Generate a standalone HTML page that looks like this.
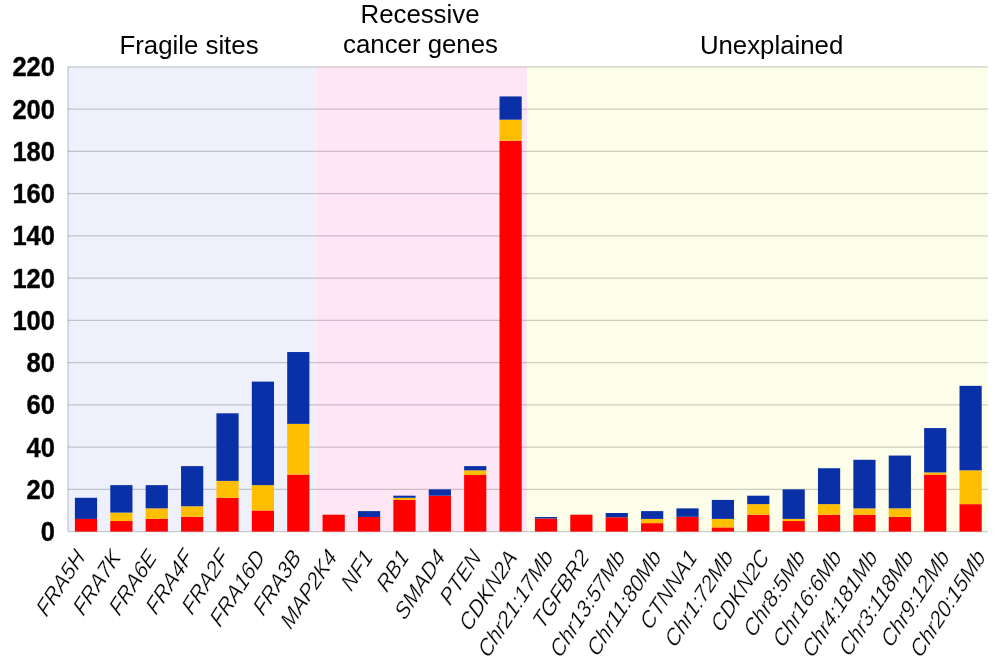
<!DOCTYPE html><html><head><meta charset="utf-8"><style>html,body{margin:0;padding:0;background:#fff;}svg{display:block;will-change:transform;}text{font-family:"Liberation Sans",sans-serif;}</style></head><body>
<svg width="1000" height="665" viewBox="0 0 1000 665">
<rect x="68.0" y="66.85" width="247.60" height="464.75" fill="#EEF1FC"/>
<rect x="315.60" y="66.85" width="211.40" height="464.75" fill="#FDE7F4"/>
<rect x="527.00" y="66.85" width="461.00" height="464.75" fill="#FDFEE9"/>
<line x1="68.0" y1="531.60" x2="988.0" y2="531.60" stroke="#000" stroke-opacity="0.19" stroke-width="1.4"/>
<line x1="68.0" y1="489.35" x2="988.0" y2="489.35" stroke="#000" stroke-opacity="0.19" stroke-width="1.4"/>
<line x1="68.0" y1="447.10" x2="988.0" y2="447.10" stroke="#000" stroke-opacity="0.19" stroke-width="1.4"/>
<line x1="68.0" y1="404.85" x2="988.0" y2="404.85" stroke="#000" stroke-opacity="0.19" stroke-width="1.4"/>
<line x1="68.0" y1="362.60" x2="988.0" y2="362.60" stroke="#000" stroke-opacity="0.19" stroke-width="1.4"/>
<line x1="68.0" y1="320.35" x2="988.0" y2="320.35" stroke="#000" stroke-opacity="0.19" stroke-width="1.4"/>
<line x1="68.0" y1="278.10" x2="988.0" y2="278.10" stroke="#000" stroke-opacity="0.19" stroke-width="1.4"/>
<line x1="68.0" y1="235.85" x2="988.0" y2="235.85" stroke="#000" stroke-opacity="0.19" stroke-width="1.4"/>
<line x1="68.0" y1="193.60" x2="988.0" y2="193.60" stroke="#000" stroke-opacity="0.19" stroke-width="1.4"/>
<line x1="68.0" y1="151.35" x2="988.0" y2="151.35" stroke="#000" stroke-opacity="0.19" stroke-width="1.4"/>
<line x1="68.0" y1="109.10" x2="988.0" y2="109.10" stroke="#000" stroke-opacity="0.19" stroke-width="1.4"/>
<line x1="68.0" y1="66.85" x2="988.0" y2="66.85" stroke="#000" stroke-opacity="0.19" stroke-width="1.4"/>
<line x1="68.0" y1="66.85" x2="68.0" y2="531.60" stroke="#000" stroke-opacity="0.19" stroke-width="1.4"/>
<rect x="74.89" y="518.93" width="22.2" height="12.67" fill="#FF0000"/>
<rect x="74.89" y="497.80" width="22.2" height="21.12" fill="#0A30A8"/>
<rect x="110.28" y="521.04" width="22.2" height="10.56" fill="#FF0000"/>
<rect x="110.28" y="512.59" width="22.2" height="8.45" fill="#FFBE00"/>
<rect x="110.28" y="485.12" width="22.2" height="27.46" fill="#0A30A8"/>
<rect x="145.66" y="518.93" width="22.2" height="12.67" fill="#FF0000"/>
<rect x="145.66" y="508.36" width="22.2" height="10.56" fill="#FFBE00"/>
<rect x="145.66" y="485.12" width="22.2" height="23.24" fill="#0A30A8"/>
<rect x="181.05" y="516.81" width="22.2" height="14.79" fill="#FF0000"/>
<rect x="181.05" y="506.25" width="22.2" height="10.56" fill="#FFBE00"/>
<rect x="181.05" y="466.11" width="22.2" height="40.14" fill="#0A30A8"/>
<rect x="216.43" y="497.80" width="22.2" height="33.80" fill="#FF0000"/>
<rect x="216.43" y="480.90" width="22.2" height="16.90" fill="#FFBE00"/>
<rect x="216.43" y="413.30" width="22.2" height="67.60" fill="#0A30A8"/>
<rect x="251.82" y="510.48" width="22.2" height="21.12" fill="#FF0000"/>
<rect x="251.82" y="485.12" width="22.2" height="25.35" fill="#FFBE00"/>
<rect x="251.82" y="381.61" width="22.2" height="103.51" fill="#0A30A8"/>
<rect x="287.20" y="474.56" width="22.2" height="57.04" fill="#FF0000"/>
<rect x="287.20" y="423.86" width="22.2" height="50.70" fill="#FFBE00"/>
<rect x="287.20" y="352.04" width="22.2" height="71.82" fill="#0A30A8"/>
<rect x="322.58" y="514.70" width="22.2" height="16.90" fill="#FF0000"/>
<rect x="357.97" y="517.02" width="22.2" height="14.58" fill="#FF0000"/>
<rect x="357.97" y="511.11" width="22.2" height="5.91" fill="#0A30A8"/>
<rect x="393.35" y="499.91" width="22.2" height="31.69" fill="#FF0000"/>
<rect x="393.35" y="497.80" width="22.2" height="2.11" fill="#FFBE00"/>
<rect x="393.35" y="495.69" width="22.2" height="2.11" fill="#0A30A8"/>
<rect x="428.74" y="495.69" width="22.2" height="35.91" fill="#FF0000"/>
<rect x="428.74" y="489.35" width="22.2" height="6.34" fill="#0A30A8"/>
<rect x="464.12" y="474.99" width="22.2" height="56.61" fill="#FF0000"/>
<rect x="464.12" y="470.34" width="22.2" height="4.65" fill="#FFBE00"/>
<rect x="464.12" y="466.11" width="22.2" height="4.22" fill="#0A30A8"/>
<rect x="499.51" y="140.79" width="22.2" height="390.81" fill="#FF0000"/>
<rect x="499.51" y="119.66" width="22.2" height="21.12" fill="#FFBE00"/>
<rect x="499.51" y="96.43" width="22.2" height="23.24" fill="#0A30A8"/>
<rect x="534.89" y="518.50" width="22.2" height="13.10" fill="#FF0000"/>
<rect x="534.89" y="517.02" width="22.2" height="1.48" fill="#0A30A8"/>
<rect x="570.28" y="514.70" width="22.2" height="16.90" fill="#FF0000"/>
<rect x="605.66" y="517.24" width="22.2" height="14.36" fill="#FF0000"/>
<rect x="605.66" y="513.01" width="22.2" height="4.23" fill="#0A30A8"/>
<rect x="641.05" y="523.15" width="22.2" height="8.45" fill="#FF0000"/>
<rect x="641.05" y="518.93" width="22.2" height="4.22" fill="#FFBE00"/>
<rect x="641.05" y="511.11" width="22.2" height="7.82" fill="#0A30A8"/>
<rect x="676.43" y="516.81" width="22.2" height="14.79" fill="#FF0000"/>
<rect x="676.43" y="508.36" width="22.2" height="8.45" fill="#0A30A8"/>
<rect x="711.82" y="527.38" width="22.2" height="4.22" fill="#FF0000"/>
<rect x="711.82" y="518.93" width="22.2" height="8.45" fill="#FFBE00"/>
<rect x="711.82" y="499.91" width="22.2" height="19.01" fill="#0A30A8"/>
<rect x="747.20" y="514.70" width="22.2" height="16.90" fill="#FF0000"/>
<rect x="747.20" y="504.14" width="22.2" height="10.56" fill="#FFBE00"/>
<rect x="747.20" y="495.69" width="22.2" height="8.45" fill="#0A30A8"/>
<rect x="782.58" y="521.04" width="22.2" height="10.56" fill="#FF0000"/>
<rect x="782.58" y="518.93" width="22.2" height="2.11" fill="#FFBE00"/>
<rect x="782.58" y="489.35" width="22.2" height="29.57" fill="#0A30A8"/>
<rect x="817.97" y="514.70" width="22.2" height="16.90" fill="#FF0000"/>
<rect x="817.97" y="504.14" width="22.2" height="10.56" fill="#FFBE00"/>
<rect x="817.97" y="468.23" width="22.2" height="35.91" fill="#0A30A8"/>
<rect x="853.35" y="514.70" width="22.2" height="16.90" fill="#FF0000"/>
<rect x="853.35" y="508.36" width="22.2" height="6.34" fill="#FFBE00"/>
<rect x="853.35" y="459.78" width="22.2" height="48.59" fill="#0A30A8"/>
<rect x="888.74" y="516.81" width="22.2" height="14.79" fill="#FF0000"/>
<rect x="888.74" y="508.36" width="22.2" height="8.45" fill="#FFBE00"/>
<rect x="888.74" y="455.55" width="22.2" height="52.81" fill="#0A30A8"/>
<rect x="924.12" y="474.56" width="22.2" height="57.04" fill="#FF0000"/>
<rect x="924.12" y="472.45" width="22.2" height="2.11" fill="#FFBE00"/>
<rect x="924.12" y="428.09" width="22.2" height="44.36" fill="#0A30A8"/>
<rect x="959.51" y="504.14" width="22.2" height="27.46" fill="#FF0000"/>
<rect x="959.51" y="470.34" width="22.2" height="33.80" fill="#FFBE00"/>
<rect x="959.51" y="385.84" width="22.2" height="84.50" fill="#0A30A8"/>
<text transform="translate(54.9,541.10) scale(1,1.05)" font-size="25.5" font-weight="bold" text-anchor="end" fill="#000" stroke="#000" stroke-width="0.35">0</text>
<text transform="translate(54.9,498.85) scale(1,1.05)" font-size="25.5" font-weight="bold" text-anchor="end" fill="#000" stroke="#000" stroke-width="0.35">20</text>
<text transform="translate(54.9,456.60) scale(1,1.05)" font-size="25.5" font-weight="bold" text-anchor="end" fill="#000" stroke="#000" stroke-width="0.35">40</text>
<text transform="translate(54.9,414.35) scale(1,1.05)" font-size="25.5" font-weight="bold" text-anchor="end" fill="#000" stroke="#000" stroke-width="0.35">60</text>
<text transform="translate(54.9,372.10) scale(1,1.05)" font-size="25.5" font-weight="bold" text-anchor="end" fill="#000" stroke="#000" stroke-width="0.35">80</text>
<text transform="translate(54.9,329.85) scale(1,1.05)" font-size="25.5" font-weight="bold" text-anchor="end" fill="#000" stroke="#000" stroke-width="0.35">100</text>
<text transform="translate(54.9,287.60) scale(1,1.05)" font-size="25.5" font-weight="bold" text-anchor="end" fill="#000" stroke="#000" stroke-width="0.35">120</text>
<text transform="translate(54.9,245.35) scale(1,1.05)" font-size="25.5" font-weight="bold" text-anchor="end" fill="#000" stroke="#000" stroke-width="0.35">140</text>
<text transform="translate(54.9,203.10) scale(1,1.05)" font-size="25.5" font-weight="bold" text-anchor="end" fill="#000" stroke="#000" stroke-width="0.35">160</text>
<text transform="translate(54.9,160.85) scale(1,1.05)" font-size="25.5" font-weight="bold" text-anchor="end" fill="#000" stroke="#000" stroke-width="0.35">180</text>
<text transform="translate(54.9,118.60) scale(1,1.05)" font-size="25.5" font-weight="bold" text-anchor="end" fill="#000" stroke="#000" stroke-width="0.35">200</text>
<text transform="translate(54.9,76.35) scale(1,1.05)" font-size="25.5" font-weight="bold" text-anchor="end" fill="#000" stroke="#000" stroke-width="0.35">220</text>
<text transform="translate(85.79,557.60) rotate(-57) skewX(-8)" font-size="22" font-style="italic" text-anchor="end" fill="#000" stroke="#fff" stroke-width="0.25">FRA5H</text>
<text transform="translate(121.82,557.60) rotate(-57) skewX(-8)" font-size="22" font-style="italic" text-anchor="end" fill="#000" stroke="#fff" stroke-width="0.25">FRA7K</text>
<text transform="translate(157.84,557.60) rotate(-57) skewX(-8)" font-size="22" font-style="italic" text-anchor="end" fill="#000" stroke="#fff" stroke-width="0.25">FRA6E</text>
<text transform="translate(193.87,557.60) rotate(-57) skewX(-8)" font-size="22" font-style="italic" text-anchor="end" fill="#000" stroke="#fff" stroke-width="0.25">FRA4F</text>
<text transform="translate(229.89,557.60) rotate(-57) skewX(-8)" font-size="22" font-style="italic" text-anchor="end" fill="#000" stroke="#fff" stroke-width="0.25">FRA2F</text>
<text transform="translate(265.92,557.60) rotate(-57) skewX(-8)" font-size="22" font-style="italic" text-anchor="end" fill="#000" stroke="#fff" stroke-width="0.25">FRA16D</text>
<text transform="translate(301.94,557.60) rotate(-57) skewX(-8)" font-size="22" font-style="italic" text-anchor="end" fill="#000" stroke="#fff" stroke-width="0.25">FRA3B</text>
<text transform="translate(337.96,557.60) rotate(-57) skewX(-8)" font-size="22" font-style="italic" text-anchor="end" fill="#000" stroke="#fff" stroke-width="0.25">MAP2K4</text>
<text transform="translate(373.99,557.60) rotate(-57) skewX(-8)" font-size="22" font-style="italic" text-anchor="end" fill="#000" stroke="#fff" stroke-width="0.25">NF1</text>
<text transform="translate(410.01,557.60) rotate(-57) skewX(-8)" font-size="22" font-style="italic" text-anchor="end" fill="#000" stroke="#fff" stroke-width="0.25">RB1</text>
<text transform="translate(446.04,557.60) rotate(-57) skewX(-8)" font-size="22" font-style="italic" text-anchor="end" fill="#000" stroke="#fff" stroke-width="0.25">SMAD4</text>
<text transform="translate(482.06,557.60) rotate(-57) skewX(-8)" font-size="22" font-style="italic" text-anchor="end" fill="#000" stroke="#fff" stroke-width="0.25">PTEN</text>
<text transform="translate(518.09,557.60) rotate(-57) skewX(-8)" font-size="22" font-style="italic" text-anchor="end" fill="#000" stroke="#fff" stroke-width="0.25">CDKN2A</text>
<text transform="translate(554.11,557.60) rotate(-57) skewX(-8)" font-size="22" font-style="italic" text-anchor="end" fill="#000" stroke="#fff" stroke-width="0.25">Chr21:17Mb</text>
<text transform="translate(590.14,557.60) rotate(-57) skewX(-8)" font-size="22" font-style="italic" text-anchor="end" fill="#000" stroke="#fff" stroke-width="0.25">TGFBR2</text>
<text transform="translate(626.16,557.60) rotate(-57) skewX(-8)" font-size="22" font-style="italic" text-anchor="end" fill="#000" stroke="#fff" stroke-width="0.25">Chr13:57Mb</text>
<text transform="translate(662.19,557.60) rotate(-57) skewX(-8)" font-size="22" font-style="italic" text-anchor="end" fill="#000" stroke="#fff" stroke-width="0.25">Chr11:80Mb</text>
<text transform="translate(698.21,557.60) rotate(-57) skewX(-8)" font-size="22" font-style="italic" text-anchor="end" fill="#000" stroke="#fff" stroke-width="0.25">CTNNA1</text>
<text transform="translate(734.24,557.60) rotate(-57) skewX(-8)" font-size="22" font-style="italic" text-anchor="end" fill="#000" stroke="#fff" stroke-width="0.25">Chr1:72Mb</text>
<text transform="translate(770.26,557.60) rotate(-57) skewX(-8)" font-size="22" font-style="italic" text-anchor="end" fill="#000" stroke="#fff" stroke-width="0.25">CDKN2C</text>
<text transform="translate(806.28,557.60) rotate(-57) skewX(-8)" font-size="22" font-style="italic" text-anchor="end" fill="#000" stroke="#fff" stroke-width="0.25">Chr8:5Mb</text>
<text transform="translate(842.31,557.60) rotate(-57) skewX(-8)" font-size="22" font-style="italic" text-anchor="end" fill="#000" stroke="#fff" stroke-width="0.25">Chr16:6Mb</text>
<text transform="translate(878.33,557.60) rotate(-57) skewX(-8)" font-size="22" font-style="italic" text-anchor="end" fill="#000" stroke="#fff" stroke-width="0.25">Chr4:181Mb</text>
<text transform="translate(914.36,557.60) rotate(-57) skewX(-8)" font-size="22" font-style="italic" text-anchor="end" fill="#000" stroke="#fff" stroke-width="0.25">Chr3:118Mb</text>
<text transform="translate(950.38,557.60) rotate(-57) skewX(-8)" font-size="22" font-style="italic" text-anchor="end" fill="#000" stroke="#fff" stroke-width="0.25">Chr9:12Mb</text>
<text transform="translate(986.41,557.60) rotate(-57) skewX(-8)" font-size="22" font-style="italic" text-anchor="end" fill="#000" stroke="#fff" stroke-width="0.25">Chr20:15Mb</text>
<text x="189" y="53.8" font-size="25.8" text-anchor="middle" fill="#000">Fragile sites</text>
<text x="420" y="22.5" font-size="25.8" text-anchor="middle" fill="#000">Recessive</text>
<text x="420.5" y="52.6" font-size="25.8" text-anchor="middle" fill="#000">cancer genes</text>
<text x="771.6" y="53.8" font-size="25.8" text-anchor="middle" fill="#000">Unexplained</text>
</svg></body></html>
